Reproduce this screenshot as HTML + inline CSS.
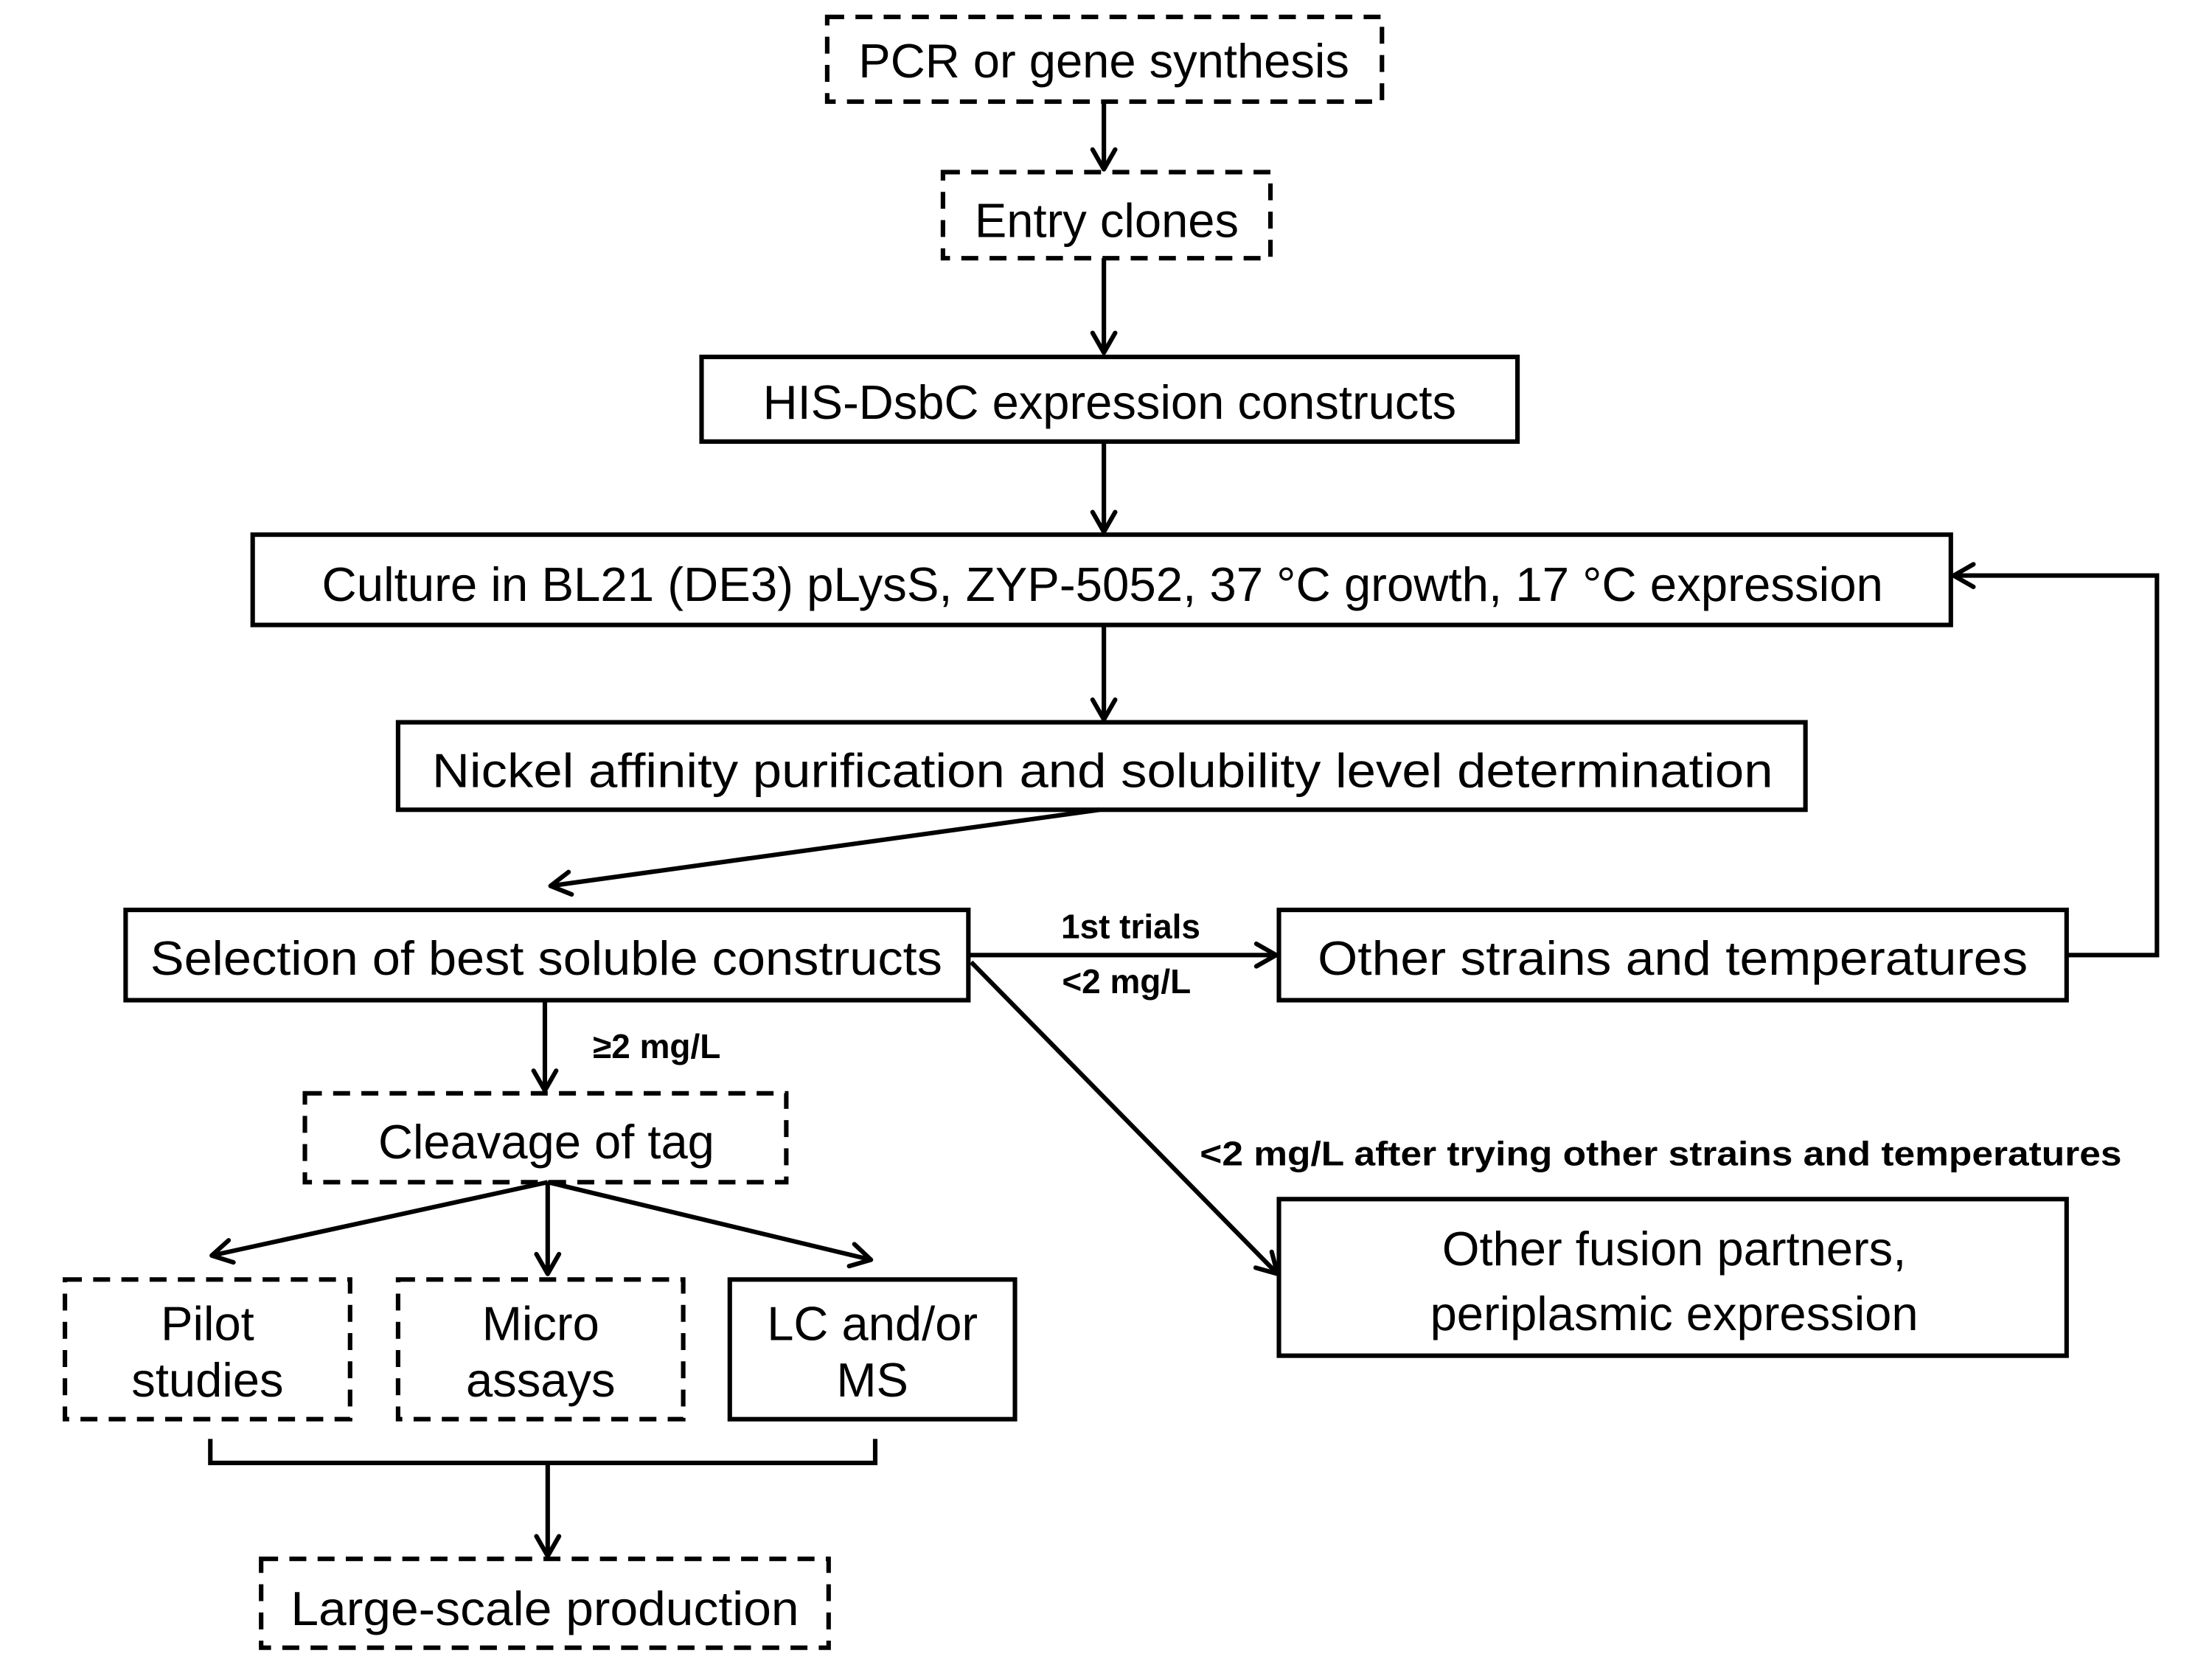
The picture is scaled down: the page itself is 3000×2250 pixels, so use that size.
<!DOCTYPE html>
<html><head><meta charset="utf-8"><style>
html,body{margin:0;padding:0;background:#fff;}
svg{display:block}
text{font-family:"Liberation Sans Narrow","Liberation Sans",sans-serif;fill:#000}
</style></head><body>
<svg width="3000" height="2250" viewBox="0 0 1567 1176" preserveAspectRatio="none" xmlns="http://www.w3.org/2000/svg">
<defs>
<marker id="a" viewBox="0 0 20 20" refX="18" refY="10" markerWidth="20" markerHeight="20" markerUnits="userSpaceOnUse" orient="auto">
<path d="M4 2 L18 10 L4 18" fill="none" stroke="#000" stroke-width="3.2" stroke-linecap="round" stroke-linejoin="round"/>
</marker>
</defs>
<g fill="none" stroke="#000" stroke-width="3.2">
<rect x="586" y="12" width="393" height="60" stroke-dasharray="12,8"/>
<rect x="668" y="122" width="232" height="61" stroke-dasharray="12,8"/>
<rect x="497" y="253" width="578" height="60"/>
<rect x="179" y="379" width="1203" height="64"/>
<rect x="282" y="512" width="997" height="62"/>
<rect x="89" y="645" width="597" height="64"/>
<rect x="906" y="645" width="558" height="64"/>
<rect x="906" y="850" width="558" height="111"/>
<rect x="216" y="775" width="341" height="63" stroke-dasharray="12,8"/>
<rect x="46" y="907" width="202" height="99" stroke-dasharray="12,8"/>
<rect x="282" y="907" width="202" height="99" stroke-dasharray="12,8"/>
<rect x="517" y="907" width="202" height="99"/>
<rect x="185" y="1105" width="402" height="63" stroke-dasharray="12,8"/>

<g marker-end="url(#a)">
<line x1="782" y1="72" x2="782" y2="120"/>
<line x1="782" y1="183" x2="782" y2="250"/>
<line x1="782" y1="313" x2="782" y2="377"/>
<line x1="782" y1="443" x2="782" y2="510"/>
<line x1="779" y1="574" x2="390" y2="628"/>
<line x1="686" y1="677" x2="904" y2="677"/>
<polyline points="1464,677 1528,677 1528,408 1384,408"/>
<line x1="688" y1="682" x2="905" y2="903"/>
<line x1="386" y1="709" x2="386" y2="773"/>
<line x1="388" y1="838" x2="150" y2="890"/>
<line x1="388" y1="838" x2="388" y2="903"/>
<line x1="388" y1="838" x2="617" y2="893"/>
<line x1="388" y1="1037" x2="388" y2="1103"/>
</g>
<polyline points="149,1020 149,1037 620,1037 620,1020"/>
</g>
<g font-size="34" text-anchor="middle">
<text x="782" y="55">PCR or gene synthesis</text>
<text x="784" y="168">Entry clones</text>
<text x="786" y="297">HIS-DsbC expression constructs</text>
<text x="781" y="426" textLength="1106" lengthAdjust="spacingAndGlyphs">Culture in BL21 (DE3) pLysS, ZYP-5052, 37 °C growth, 17 °C expression</text>
<text x="781" y="558" textLength="950" lengthAdjust="spacingAndGlyphs">Nickel affinity purification and solubility level determination</text>
<text x="387" y="691" textLength="561" lengthAdjust="spacingAndGlyphs">Selection of best soluble constructs</text>
<text x="1185" y="691" textLength="503" lengthAdjust="spacingAndGlyphs">Other strains and temperatures</text>
<text x="1186" y="897">Other fusion partners,</text>
<text x="1186" y="943">periplasmic expression</text>
<text x="387" y="821">Cleavage of tag</text>
<text x="147" y="950">Pilot</text>
<text x="147" y="990">studies</text>
<text x="383" y="950">Micro</text>
<text x="383" y="990">assays</text>
<text x="618" y="950">LC and/or</text>
<text x="618" y="990">MS</text>
<text x="386" y="1152" textLength="360" lengthAdjust="spacingAndGlyphs">Large-scale production</text>
</g>
<g font-size="24" font-weight="bold">
<text x="801" y="665" text-anchor="middle">1st trials</text>
<text x="798" y="704" text-anchor="middle">&lt;2 mg/L</text>
<text x="420" y="750">≥2 mg/L</text>
<text x="850" y="826" textLength="653" lengthAdjust="spacingAndGlyphs">&lt;2 mg/L after trying other strains and temperatures</text>
</g>
</svg>
</body></html>
